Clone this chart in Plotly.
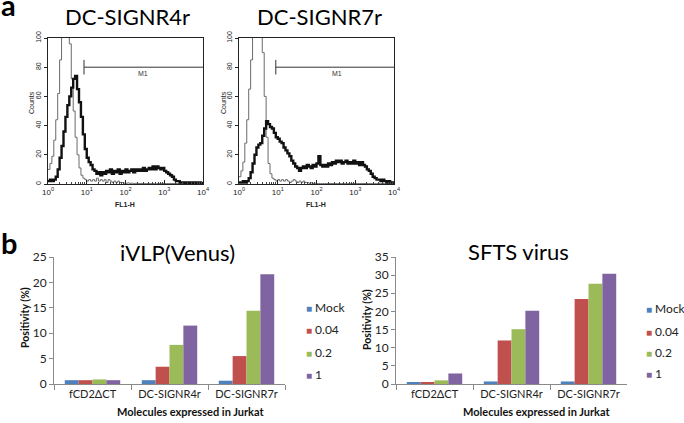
import plotly.graph_objects as go

W, H = 684, 423

# ---------------- panel a : flow cytometry histograms ----------------
# channel grid in log10(FL1-H) units (instrument bins)
fl1_log = [round(i * 0.05, 2) for i in range(81)]

r4_control = [10, 14, 19, 30, 44, 62, 85, 104, 118, 122,
              115, 96, 72, 50, 32, 20, 11, 6, 4, 3,
              2, 3, 2, 3, 2, 4, 2, 3, 2, 3,
              1, 3, 2, 1, 2, 1, 2, 1, 1, 0.5,
              0.5, 0.8, 0.4, 0.6, 0.3, 0.5, 0.3, 0.4, 0.3, 0.3,
              0.3, 0.3, 0.3, 0.3, 0.3, 0.3, 0.3, 0.3, 0.3, 0.3,
              0.3, 0.3, 0.3, 0.3, 0.3, 0.3, 0.3, 0.3, 0.3, 0.3,
              0.3, 0.3, 0.3, 0.3, 0.3, 0.3, 0.3, 0.3, 0.3, 0.3,
              0.3]
r4_sample = [2, 3, 2, 3, 5, 10, 18, 26, 36, 46,
             54, 60, 66, 72, 74, 65, 56, 46, 34, 24,
             18, 15, 13, 10, 9, 7, 8, 6, 8, 7,
             9, 8, 10, 7, 9, 8, 10, 7, 9, 8,
             10, 8, 9, 10, 8, 10, 9, 10, 9, 11,
             9, 10, 11, 10, 12, 10, 12, 11, 10, 11,
             9, 8, 7, 6, 5, 3, 2, 2, 1, 1,
             1, 0.5, 1, 0.5, 1, 0.5, 1, 0.5, 1, 0.5,
             0.5]
r7_control = [5, 9, 15, 28, 44, 65, 85, 102, 120, 130,
              128, 115, 90, 60, 32, 14, 7, 4, 3, 2,
              3, 2, 3, 2, 3, 2, 1, 2, 3, 2,
              1, 2, 1, 2, 1, 1, 0.5, 0.8, 0.4, 0.5,
              0.3, 0.3, 0.3, 0.3, 0.3, 0.3, 0.3, 0.3, 0.3, 0.3,
              0.3, 0.3, 0.3, 0.3, 0.3, 0.3, 0.3, 0.3, 0.3, 0.3,
              0.3, 0.3, 0.3, 0.3, 0.3, 0.3, 0.3, 0.3, 0.3, 0.3,
              0.3, 0.3, 0.3, 0.3, 0.3, 0.3, 0.3, 0.3, 0.3, 0.3,
              0.3]
r7_sample = [1, 1, 2, 1, 2, 4, 8, 14, 20, 25,
             27, 28, 33, 38, 43, 41, 39, 38, 35, 32,
             31, 29, 28, 25, 23, 21, 19, 16, 14, 12,
             11, 9, 11, 12, 11, 13, 12, 11, 13, 12,
             14, 19, 13, 12, 13, 12, 14, 13, 15, 14,
             16, 15, 16, 14, 15, 16, 14, 15, 14, 16,
             14, 15, 13, 15, 13, 12, 10, 9, 7, 5,
             4, 3, 3, 2, 3, 2, 1, 2, 1, 1,
             0.5]

hist_titles = ["DC-SIGNR4r", "DC-SIGNR7r"]
gate_start = [8.5, 8.9]      # M1 marker start (FL1-H)
gate_level = 80              # counts level of the M1 bar
fl1_ticks = [1, 10, 100, 1000, 10000]
fl1_ticktext = ["10<sup>0</sup>", "10<sup>1</sup>", "10<sup>2</sup>", "10<sup>3</sup>", "10<sup>4</sup>"]
count_ticks = [0, 20, 40, 60, 80, 100]

# ---------------- panel b : bar charts ----------------
categories = ["fCD2\u0394CT", "DC-SIGNR4r", "DC-SIGNR7r"]
doses = ["Mock", "0.04", "0.2", "1"]
ivlp_mock = [0.75, 0.75, 0.65]
ivlp_004 = [0.75, 3.4, 5.5]
ivlp_02 = [0.9, 7.7, 14.4]
ivlp_1 = [0.75, 11.5, 21.6]
sfts_mock = [0.55, 0.7, 0.7]
sfts_004 = [0.45, 12.0, 23.4]
sfts_02 = [1.0, 15.1, 27.6]
sfts_1 = [2.9, 20.2, 30.4]
dose_colors = ["#4F81BD", "#C0504D", "#9BBB59", "#8064A2"]


def px(x):
    return x / W


def py(y):
    return 1 - y / H


fig = go.Figure()

FACS_FONT = "Liberation Sans"
BAR_FONT = "Lato"

# histograms
hist_data = [(r4_control, r4_sample), (r7_control, r7_sample)]
for i, (ctrl, samp) in enumerate(hist_data):
    xa = "x" if i == 0 else "x2"
    ya = "y" if i == 0 else "y2"
    xs = [10 ** v for v in fl1_log]
    fig.add_trace(go.Scatter(x=xs, y=ctrl, mode="lines", line=dict(color="#6a6a6a", width=1, shape="hv"),
                             xaxis=xa, yaxis=ya, showlegend=False, hoverinfo="skip"))
    fig.add_trace(go.Scatter(x=xs, y=samp, mode="lines", line=dict(color="#111111", width=2.4, shape="hv"),
                             xaxis=xa, yaxis=ya, showlegend=False, hoverinfo="skip"))
    # M1 gate
    fig.add_trace(go.Scatter(x=[gate_start[i], 10000], y=[gate_level, gate_level], mode="lines",
                             line=dict(color="#333333", width=1), xaxis=xa, yaxis=ya,
                             showlegend=False, hoverinfo="skip"))
    fig.add_trace(go.Scatter(x=[gate_start[i], gate_start[i]], y=[gate_level - 5, gate_level + 5], mode="lines",
                             line=dict(color="#333333", width=1), xaxis=xa, yaxis=ya,
                             showlegend=False, hoverinfo="skip"))

# bars
bar_sets = [
    ("x3", "y3", [ivlp_mock, ivlp_004, ivlp_02, ivlp_1]),
    ("x4", "y4", [sfts_mock, sfts_004, sfts_02, sfts_1]),
]
for xa, ya, series in bar_sets:
    for name, vals, col in zip(doses, series, dose_colors):
        fig.add_trace(go.Bar(x=categories, y=vals, name=name, marker=dict(color=col, line=dict(width=0)),
                             xaxis=xa, yaxis=ya, showlegend=False))

hist_y_dom = [py(184), py(38)]
hx_common = dict(type="log", range=[0, 4], tickvals=fl1_ticks, ticktext=fl1_ticktext,
                 ticks="inside", ticklen=4, tickcolor="#222", showline=True, linecolor="#222",
                 linewidth=1, mirror=True, showgrid=False, zeroline=False,
                 tickfont=dict(family=FACS_FONT, size=8, color="#222"),
                 minor=dict(ticks="inside", ticklen=2, tickcolor="#444",
                            tickvals=[m * 10 ** d for d in range(4) for m in range(2, 10)]))
hy_common = dict(range=[0, 100], tickvals=count_ticks, ticks="outside", ticklen=3, tickcolor="#222",
                 showline=True, linecolor="#222", linewidth=1, mirror=True, showgrid=False,
                 zeroline=False, tickangle=-90,
                 tickfont=dict(family=FACS_FONT, size=7, color="#222"))

bx_common = dict(showline=True, linecolor="#8a8a8a", linewidth=1, ticks="outside", tickson="boundaries",
                 ticklen=5, tickcolor="#8a8a8a", showgrid=False, zeroline=False,
                 tickfont=dict(family=BAR_FONT, size=11, color="#222"))
by_common = dict(showline=True, linecolor="#8a8a8a", linewidth=1, ticks="outside", ticklen=4,
                 tickcolor="#8a8a8a", showgrid=False, zeroline=False, dtick=5,
                 tickfont=dict(family=BAR_FONT, size=12, color="#222"))

# no layout width/height: the figure fills its (fixed 684x423) container
fig.update_layout(
    autosize=True, margin=dict(l=0, r=0, t=0, b=0, autoexpand=False),
    paper_bgcolor="white", plot_bgcolor="white",
    barmode="group", bargap=0.28, bargroupgap=0,
    xaxis=dict(domain=[px(48), px(203)], anchor="y", **hx_common),
    yaxis=dict(domain=hist_y_dom, anchor="x", **hy_common),
    xaxis2=dict(domain=[px(239), px(394)], anchor="y2", **hx_common),
    yaxis2=dict(domain=hist_y_dom, anchor="x2", **hy_common),
    xaxis3=dict(domain=[px(54), px(285)], anchor="y3", **bx_common),
    yaxis3=dict(domain=[py(384), py(257)], anchor="x3", range=[0, 25], **by_common),
    xaxis4=dict(domain=[px(396), px(627)], anchor="y4", **bx_common),
    yaxis4=dict(domain=[py(384), py(257)], anchor="x4", range=[0, 35], **by_common),
    showlegend=False,
)

ann = []
# panel letters
ann.append(dict(text="<b>a</b>", x=px(-1), y=py(4), xanchor="left", yanchor="middle",
                font=dict(family=BAR_FONT, size=29, color="black")))
ann.append(dict(text="<b>b</b>", x=px(-1), y=py(242), xanchor="left", yanchor="middle",
                font=dict(family=BAR_FONT, size=29, color="black")))
# histogram titles
for t, cx in zip(hist_titles, [127, 319]):
    ann.append(dict(text=t, x=px(cx), y=py(16.5), xanchor="center", yanchor="middle",
                    font=dict(family=BAR_FONT, size=22, color="black")))
# Counts / FL1-H labels
for cx in [31, 223]:
    ann.append(dict(text="Counts", x=px(cx), y=py(103), textangle=-90, xanchor="center", yanchor="middle",
                    font=dict(family=FACS_FONT, size=7, color="#222")))
for cx in [125, 316]:
    ann.append(dict(text="<b>FL1-H</b>", x=px(cx), y=py(204), xanchor="center", yanchor="middle",
                    font=dict(family=FACS_FONT, size=7, color="#222")))
# M1 labels (log units on log axis)
for xr, yr, lx in [("x", "y", 2.45), ("x2", "y2", 2.53)]:
    ann.append(dict(text="M1", x=lx, y=gate_level - 4, xref=xr, yref=yr, showarrow=False,
                    xanchor="center", yanchor="middle",
                    font=dict(family=FACS_FONT, size=7, color="#333")))
# bar chart titles
ann.append(dict(text="iVLP(Venus)", x=px(177), y=py(252), xanchor="center", yanchor="middle",
                font=dict(family=BAR_FONT, size=22, color="black")))
ann.append(dict(text="SFTS virus", x=px(518), y=py(251), xanchor="center", yanchor="middle",
                font=dict(family=BAR_FONT, size=22, color="black")))
# axis titles
for cx in [190, 536]:
    ann.append(dict(text="<b>Molecules expressed in Jurkat</b>", x=px(cx), y=py(411),
                    xanchor="center", yanchor="middle",
                    font=dict(family=BAR_FONT, size=11, color="#111")))
for cx, cy in [(25, 318), (367, 320)]:
    ann.append(dict(text="<b>Positivity (%)</b>", x=px(cx), y=py(cy), textangle=-90,
                    xanchor="center", yanchor="middle",
                    font=dict(family=BAR_FONT, size=10.5, color="#111")))
# legends (square + label, one per dose)
for lx, rows in [(304, [307, 329, 352, 374]), (644, [308, 331, 352, 373])]:
    for name, col, ry in zip(doses, dose_colors, rows):
        ann.append(dict(text=f"<span style='color:{col};font-size:10px'>\u25A0</span> {name}",
                        x=px(lx), y=py(ry), xanchor="left", yanchor="middle",
                        font=dict(family=BAR_FONT, size=12, color="#222")))

for a in ann:
    a.setdefault("xref", "paper")
    a.setdefault("yref", "paper")
    a.setdefault("showarrow", False)
fig.update_layout(annotations=ann)

fig.write_html("out.html", config={"displayModeBar": False, "responsive": False},
               default_width="684px;position:fixed;left:0px;top:0px",
               default_height="423px")
